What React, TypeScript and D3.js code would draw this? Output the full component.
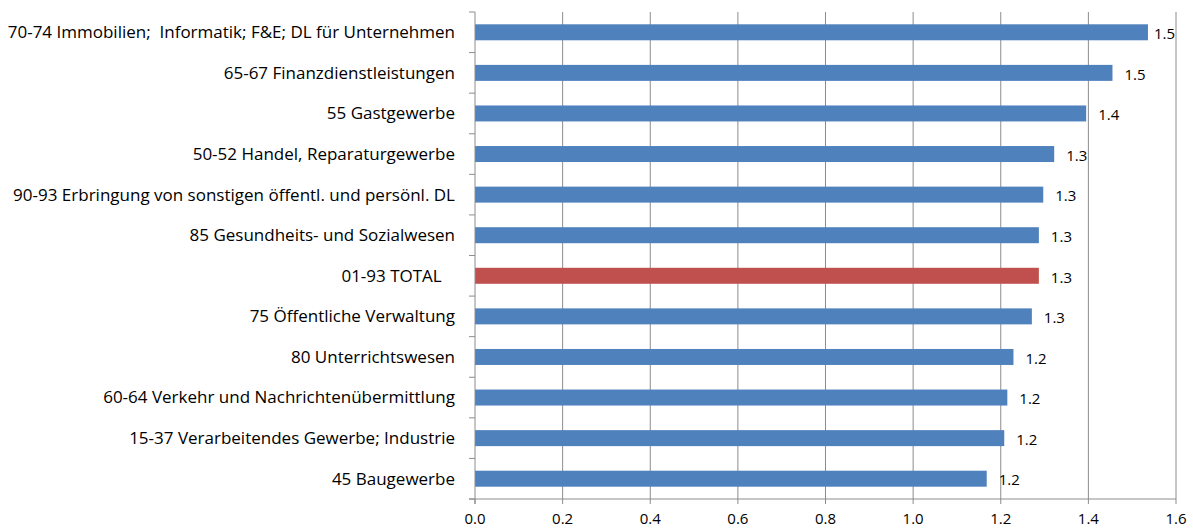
import React from "react";
import * as d3 from "d3";

const categories = [
  "70-74 Immobilien;  Informatik; F&E; DL für Unternehmen",
  "65-67 Finanzdienstleistungen",
  "55 Gastgewerbe",
  "50-52 Handel, Reparaturgewerbe",
  "90-93 Erbringung von sonstigen öffentl. und persönl. DL",
  "85 Gesundheits- und Sozialwesen",
  "01-93 TOTAL   ",
  "75 Öffentliche Verwaltung",
  "80 Unterrichtswesen",
  "60-64 Verkehr und Nachrichtenübermittlung",
  "15-37 Verarbeitendes Gewerbe; Industrie",
  "45 Baugewerbe",
];
const values = [1.536, 1.455, 1.395, 1.322, 1.297, 1.287, 1.287, 1.271, 1.229, 1.215, 1.208, 1.168];
const highlight = ["01-93 TOTAL   "];
const xTicks = [0, 0.2, 0.4, 0.6, 0.8, 1.0, 1.2, 1.4, 1.6];

const W = 1193, H = 528;
const left = 475, right = 1176, top = 12, bottom = 499;
const font = "Open Sans, sans-serif";

export default function App() {
  const x = d3.scaleLinear().domain([0, 1.6]).range([left, right]);
  const y = d3.scaleBand().domain(categories).range([top, bottom]).paddingInner(0.606).paddingOuter(0.303);
  const band = d3.scaleBand().domain(categories).range([top, bottom]);
  const fmt = d3.format(".1f");
  return (
    <svg width={W} height={H} style={{ position: "absolute", left: 0, top: 0, background: "#fff" }}>
      {xTicks.slice(1).map((t) => (
        <line key={"g" + t} x1={x(t)} x2={x(t)} y1={top} y2={bottom} stroke="#8c8c8c" strokeWidth={1} />
      ))}
      {categories.map((c, i) => (
        <rect
          key={c}
          x={x(0)}
          y={y(c)!}
          width={x(values[i]) - x(0)}
          height={y.bandwidth()}
          fill={highlight.includes(c) ? "#C0504D" : "#4F81BD"}
        />
      ))}
      <line x1={left} x2={left} y1={top} y2={bottom + 5} stroke="#8c8c8c" />
      {categories.map((c) => (
        <line key={"yt" + c} x1={left - 6} x2={left} y1={band(c)!} y2={band(c)!} stroke="#8c8c8c" />
      ))}
      <line x1={left - 6} x2={left} y1={bottom} y2={bottom} stroke="#8c8c8c" />
      <line x1={left - 6} x2={right} y1={bottom} y2={bottom} stroke="#8c8c8c" />
      {xTicks.map((t) => (
        <g key={"xt" + t}>
          <line x1={x(t)} x2={x(t)} y1={bottom} y2={bottom + 5} stroke="#8c8c8c" />
          <text x={x(t)} y={bottom + 25} textAnchor="middle" fontFamily={font} fontSize={15} fill="#000">
            {fmt(t)}
          </text>
        </g>
      ))}
      {categories.map((c) => (
        <text
          key={"l" + c}
          x={455}
          y={band(c)! + band.bandwidth() / 2}
          dy="0.35em"
          textAnchor="end"
          fontFamily={font}
          fontSize={17}
          fill="#000"
          style={{ whiteSpace: "pre" }}
        >
          {c}
        </text>
      ))}
      {categories.map((c, i) => {
        const pos = i === 0 ? x(values[i]) + 6 : x(values[i]) + 12;
        return (
          <text
            key={"v" + c}
            x={pos}
            y={band(c)! + band.bandwidth() / 2 + 1.5}
            dy="0.35em"
            fontFamily={font}
            fontSize={15}
            fill="#000"
          >
            {fmt(values[i])}
          </text>
        );
      })}
    </svg>
  );
}
